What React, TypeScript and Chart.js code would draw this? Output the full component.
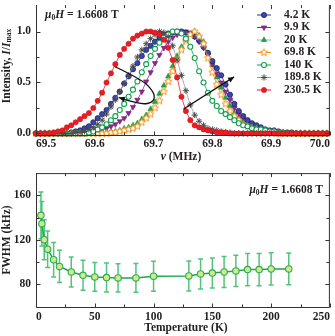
import React, { useEffect, useRef } from 'react';
import { Chart, registerables } from 'chart.js';
import { drawPoint } from 'chart.js/helpers';

Chart.register(...registerables);

const FONT = "'Liberation Serif', 'Times New Roman', serif";
const TXT = '#231f20';
const AXIS = '#333333';

// ---------- top panel data: normalized intensity vs frequency ----------
const freqMHz = [
  69.5000, 69.5075, 69.5150, 69.5225, 69.5300, 69.5375, 69.5450, 69.5525, 69.5600, 69.5675,
  69.5750, 69.5825, 69.5900, 69.5975, 69.6050, 69.6125, 69.6200, 69.6275, 69.6350, 69.6425,
  69.6500, 69.6575, 69.6650, 69.6725, 69.6800, 69.6875, 69.6950, 69.7025, 69.7100, 69.7175,
  69.7250, 69.7325, 69.7400, 69.7475, 69.7550, 69.7625, 69.7700, 69.7775, 69.7850, 69.7925,
  69.8000, 69.8075, 69.8150, 69.8225, 69.8300, 69.8375, 69.8450, 69.8525, 69.8600, 69.8675,
  69.8750, 69.8825, 69.8900, 69.8975, 69.9050, 69.9125, 69.9200, 69.9275, 69.9350, 69.9425,
  69.9500, 69.9575, 69.9650, 69.9725, 69.9800, 69.9875, 69.9950,
];
const int4_2K = [
  0, 0, 0, 0, 0, 0, 0, 0, 0.01, 0.02,
  0.03, 0.05, 0.07, 0.11, 0.15, 0.19, 0.23, 0.29, 0.35, 0.41,
  0.49, 0.56, 0.63, 0.69, 0.76, 0.82, 0.86, 0.90, 0.94, 0.97,
  0.98, 0.99, 1.00, 1.00, 0.99, 0.98, 0.95, 0.91, 0.85, 0.79,
  0.71, 0.64, 0.57, 0.48, 0.38, 0.29, 0.22, 0.17, 0.13, 0.10,
  0.08, 0.06, 0.04, 0.03, 0.03, 0.02, 0.01, 0.01, 0.01, 0,
  0, 0, 0, 0, 0, 0, 0,
];
const int9_9K = [
  0, 0, 0, 0, 0, 0, 0, 0, 0, 0,
  0, 0, 0.01, 0.02, 0.02, 0.04, 0.05, 0.07, 0.09, 0.12,
  0.15, 0.20, 0.26, 0.33, 0.41, 0.51, 0.60, 0.69, 0.77, 0.84,
  0.90, 0.94, 0.97, 0.99, 1.00, 0.98, 0.95, 0.90, 0.84, 0.77,
  0.68, 0.59, 0.50, 0.41, 0.33, 0.25, 0.19, 0.14, 0.10, 0.08,
  0.05, 0.04, 0.03, 0.02, 0.01, 0.01, 0, 0, 0, 0,
  0, 0, 0, 0, 0, 0, 0,
];
const int20K = [
  0, 0, 0, 0, 0, 0, 0, 0, 0, 0,
  0, 0, 0, 0, 0, 0.01, 0.01, 0.02, 0.02, 0.03,
  0.05, 0.06, 0.08, 0.10, 0.14, 0.18, 0.24, 0.31, 0.39, 0.47,
  0.56, 0.66, 0.76, 0.85, 0.92, 0.97, 1.00, 0.96, 0.90, 0.79,
  0.67, 0.55, 0.45, 0.35, 0.27, 0.20, 0.15, 0.11, 0.08, 0.06,
  0.04, 0.03, 0.02, 0.01, 0.01, 0, 0, 0, 0, 0,
  0, 0, 0, 0, 0, 0, 0,
];
const int69_8K = [
  0, 0, 0, 0, 0, 0, 0, 0, 0, 0,
  0, 0, 0, 0, 0, 0, 0, 0.01, 0.01, 0.02,
  0.03, 0.04, 0.05, 0.07, 0.11, 0.15, 0.19, 0.25, 0.32, 0.41,
  0.51, 0.61, 0.72, 0.82, 0.91, 0.97, 1.00, 0.95, 0.88, 0.74,
  0.60, 0.48, 0.38, 0.29, 0.22, 0.17, 0.13, 0.09, 0.07, 0.05,
  0.04, 0.03, 0.02, 0.01, 0.01, 0, 0, 0, 0, 0,
  0, 0, 0, 0, 0, 0, 0,
];
const int140K = [
  0, 0, 0, 0, 0, 0, 0, 0, 0, 0,
  0, 0, 0.01, 0.02, 0.04, 0.06, 0.09, 0.13, 0.17, 0.23,
  0.29, 0.36, 0.43, 0.51, 0.60, 0.68, 0.76, 0.83, 0.89, 0.94,
  0.97, 1.00, 1.00, 0.98, 0.93, 0.85, 0.74, 0.61, 0.50, 0.40,
  0.32, 0.27, 0.22, 0.19, 0.16, 0.13, 0.10, 0.08, 0.07, 0.05,
  0.04, 0.04, 0.03, 0.02, 0.02, 0.01, 0.01, 0, 0, 0,
  0, 0, 0, 0, 0, 0, 0,
];
const int189_8K = [
  0, 0, 0, 0, 0, 0, 0, 0, 0, 0.01,
  0.01, 0.02, 0.04, 0.06, 0.09, 0.13, 0.19, 0.26, 0.33, 0.41,
  0.49, 0.57, 0.66, 0.75, 0.82, 0.88, 0.93, 0.97, 1.00, 0.99,
  0.95, 0.86, 0.72, 0.57, 0.42, 0.28, 0.18, 0.12, 0.08, 0.05,
  0.04, 0.03, 0.02, 0.01, 0.01, 0, 0, 0, 0, 0,
  0, 0, 0, 0, 0, 0, 0, 0, 0, 0,
  0, 0, 0, 0, 0, 0, 0,
];
const int230_5K = [
  0, 0, 0, 0, 0.01, 0.02, 0.03, 0.06, 0.08, 0.11,
  0.14, 0.17, 0.20, 0.25, 0.32, 0.40, 0.50, 0.59, 0.68, 0.77,
  0.83, 0.88, 0.93, 0.96, 0.98, 1.00, 1.00, 0.99, 0.97, 0.92,
  0.84, 0.72, 0.55, 0.36, 0.22, 0.13, 0.08, 0.06, 0.04, 0.03,
  0.02, 0.01, 0.01, 0.01, 0, 0, 0, 0, 0, 0,
  0, 0, 0, 0, 0, 0, 0, 0, 0, 0,
  0, 0, 0, 0, 0, 0, 0,
];
const seriesLabels = ['4.2 K', '9.9 K', '20 K', '69.8 K', '140 K', '189.8 K', '230.5 K'];

// ---------- bottom panel data: FWHM vs temperature ----------
const tempK = [4.2, 5, 7, 9.9, 15, 20, 30, 40, 50, 60, 69.8, 85, 100, 130, 140, 150, 160, 170, 180, 189.8, 200, 215];
const fwhmKHz = [142, 134.5, 120, 111.5, 102, 96, 91, 88, 86.6, 86, 85.7, 85.7, 87.2, 87.5, 89.3, 90, 91, 92, 93.2, 93.2, 93.8, 93.8];
const fwhmErr = [21, 20, 18, 16.5, 15.5, 14.5, 13.5, 13.5, 13, 13, 12.8, 13, 13.5, 13.5, 13.5, 13.5, 14, 14, 14.5, 14.5, 14.5, 14.3];

// ---------- ticks ----------
const xTicksTop = [69.5, 69.6, 69.7, 69.8, 69.9, 70.0];
const xMinorTop = [69.55, 69.65, 69.75, 69.85, 69.95];
const yTicksTop = [0, 0.5, 1.0];
const yMinorTop = [0.25, 0.75];
const xTicksBot = [0, 50, 100, 150, 200, 250];
const xMinorBot = [25, 75, 125, 175, 225];
const yTicksBot = [80, 120, 160];
const yMinorBot = [100, 140];

// arrows (data coordinates of the top panel)
const curvedArrow = [
  [69.6346, 0.654], [69.6824, 0.522], [69.6993, 0.411], [69.7022, 0.349],
  [69.6965, 0.302], [69.6824, 0.286], [69.66, 0.317], [69.641, 0.353],
];
const straightArrow = [[69.751, 0.24], [69.837, 0.555]];

type Piece = { t: string; f: string; dy?: number };

function drawRich(ctx: CanvasRenderingContext2D, pieces: Piece[], x: number, y: number, align: 'left' | 'center' | 'right') {
  let total = 0;
  for (const p of pieces) { ctx.font = p.f; total += ctx.measureText(p.t).width; }
  let cx = align === 'center' ? x - total / 2 : align === 'right' ? x - total : x;
  ctx.textBaseline = 'middle';
  ctx.textAlign = 'left';
  for (const p of pieces) {
    ctx.font = p.f;
    ctx.fillText(p.t, cx, y + (p.dy || 0));
    cx += ctx.measureText(p.t).width;
  }
}

const fB = (s: number) => `bold ${s}px ${FONT}`;
const fBI = (s: number) => `italic bold ${s}px ${FONT}`;

const fieldPieces: Piece[] = [
  { t: 'μ', f: fBI(11.5) },
  { t: '0', f: fB(7.5), dy: 3 },
  { t: 'H', f: fBI(11.5) },
  { t: ' = 1.6608 T', f: fB(11.5) },
];

function drawFrame(chart: any, xMaj: number[], xMin: number[], yMaj: number[], yMin: number[], topLine: boolean) {
  const { ctx, chartArea: a } = chart;
  const sx = chart.scales.x, sy = chart.scales.y;
  ctx.save();
  ctx.strokeStyle = AXIS;
  ctx.lineWidth = 1;
  ctx.beginPath();
  const L = a.left + 0.5, R = a.right - 0.5, B = a.bottom + 0.5, T = a.top + 0.5;
  ctx.moveTo(L, a.top); ctx.lineTo(L, B); ctx.lineTo(R, B); ctx.lineTo(R, a.top);
  if (topLine) { ctx.moveTo(L, T); ctx.lineTo(R, T); }
  const vx = (v: number, len: number) => {
    const p = Math.round(sx.getPixelForValue(v)) + 0.5;
    ctx.moveTo(p, B); ctx.lineTo(p, B - len);
    ctx.moveTo(p, a.top); ctx.lineTo(p, a.top + len);
  };
  const vy = (v: number, len: number) => {
    const p = Math.round(sy.getPixelForValue(v)) + 0.5;
    ctx.moveTo(L, p); ctx.lineTo(L + len, p);
    ctx.moveTo(R, p); ctx.lineTo(R - len, p);
  };
  xMaj.forEach((v) => vx(v, 4));
  xMin.forEach((v) => vx(v, 3));
  yMaj.forEach((v) => vy(v, 4));
  yMin.forEach((v) => vy(v, 3));
  ctx.stroke();
  ctx.restore();
}

function arrowHead(ctx: CanvasRenderingContext2D, fx: number, fy: number, tx: number, ty: number, len: number, half: number) {
  const ang = Math.atan2(ty - fy, tx - fx);
  ctx.beginPath();
  ctx.moveTo(tx, ty);
  ctx.lineTo(tx - len * Math.cos(ang) + half * Math.sin(ang), ty - len * Math.sin(ang) - half * Math.cos(ang));
  ctx.lineTo(tx - len * Math.cos(ang) - half * Math.sin(ang), ty - len * Math.sin(ang) + half * Math.cos(ang));
  ctx.closePath();
  ctx.fill();
}

function makeStar(color: string, size: number) {
  const c = document.createElement('canvas');
  c.width = size; c.height = size;
  const g = c.getContext('2d')!;
  const cx = size / 2, cy = size / 2, R = size / 2 - 0.7, r = R * 0.45;
  g.beginPath();
  for (let i = 0; i < 10; i++) {
    const ang = -Math.PI / 2 + (i * Math.PI) / 5;
    const rr = i % 2 ? r : R;
    g.lineTo(cx + rr * Math.cos(ang), cy + rr * Math.sin(ang));
  }
  g.closePath();
  g.fillStyle = '#ffffff';
  g.fill();
  g.strokeStyle = color;
  g.lineWidth = 1;
  g.stroke();
  return c;
}

export default function App() {
  const topRef = useRef<HTMLCanvasElement>(null);
  const botRef = useRef<HTMLCanvasElement>(null);

  useEffect(() => {
    const star = makeStar('#f7941d', 9);
    const seriesValues = [int4_2K, int9_9K, int20K, int69_8K, int140K, int189_8K, int230_5K];
    const styles: any[] = [
      { line: '#2e3192', fill: '#3b47a6', border: '#1d2168', ps: 'circle', r: 2.6, rot: 0, bw: 0.8, order: 4 },
      { line: '#92278f', fill: '#92278f', border: '#6e1b6b', ps: 'triangle', r: 3.1, rot: 180, bw: 0.6, order: 5 },
      { line: '#78cf98', fill: '#1aa84a', border: '#12893a', ps: 'triangle', r: 3.1, rot: 0, bw: 0.6, order: 6 },
      { line: '#f7941d', fill: '#ffffff', border: '#f7941d', ps: star, r: 4, rot: 0, bw: 0, order: 3 },
      { line: '#0fa14a', fill: '#ffffff', border: '#0fa14a', ps: 'circle', r: 2.5, rot: 0, bw: 1.1, order: 2 },
      { line: '#999999', fill: '#555555', border: '#4a4a4a', ps: 'star', r: 3.1, rot: 0, bw: 1, order: 1 },
      { line: '#ec1c24', fill: '#ec1c24', border: '#c1161c', ps: 'circle', r: 2.6, rot: 0, bw: 0.6, order: 0 },
    ];

    const topDatasets = seriesValues.map((vals, k) => ({
      label: seriesLabels[k],
      data: freqMHz.map((f, i) => ({ x: f, y: vals[i] })),
      showLine: true,
      borderColor: styles[k].line,
      borderWidth: 0.8,
      pointStyle: styles[k].ps,
      pointRotation: styles[k].rot,
      pointRadius: styles[k].r,
      pointBackgroundColor: styles[k].fill,
      pointBorderColor: styles[k].border,
      pointBorderWidth: styles[k].bw,
      tension: 0,
      order: styles[k].order,
      clip: false as any,
    }));

    const topPlugin = {
      id: 'topDecor',
      afterDraw(chart: any) {
        const { ctx } = chart;
        const sx = chart.scales.x, sy = chart.scales.y;
        drawFrame(chart, xTicksTop, xMinorTop, yTicksTop, yMinorTop, false);
        ctx.save();
        ctx.fillStyle = TXT;
        drawRich(ctx, fieldPieces, 45, 15, 'left');
        // legend
        const y0 = 15, step = 12.5;
        seriesLabels.forEach((lab, k) => {
          const y = y0 + k * step;
          const st = styles[k];
          ctx.strokeStyle = st.line;
          ctx.lineWidth = 1;
          ctx.beginPath(); ctx.moveTo(257, y); ctx.lineTo(271, y); ctx.stroke();
          ctx.fillStyle = st.fill;
          ctx.strokeStyle = st.border;
          ctx.lineWidth = st.bw;
          drawPoint(ctx, { pointStyle: st.ps, rotation: st.rot, radius: st.r, borderWidth: st.bw } as any, 264, y);
          ctx.fillStyle = TXT;
          ctx.font = fB(11.5);
          ctx.textAlign = 'left';
          ctx.textBaseline = 'middle';
          ctx.fillText(lab, 284, y);
        });
        // arrows
        ctx.strokeStyle = '#111';
        ctx.fillStyle = '#111';
        ctx.lineWidth = 1.3;
        const pts = curvedArrow.map(([a, b]) => [sx.getPixelForValue(a), sy.getPixelForValue(b)]);
        ctx.beginPath();
        ctx.moveTo(pts[0][0], pts[0][1]);
        for (let i = 1; i < pts.length - 1; i++) {
          const mx = (pts[i][0] + pts[i + 1][0]) / 2, my = (pts[i][1] + pts[i + 1][1]) / 2;
          ctx.quadraticCurveTo(pts[i][0], pts[i][1], mx, my);
        }
        const n = pts.length;
        ctx.lineTo(pts[n - 1][0], pts[n - 1][1]);
        ctx.stroke();
        arrowHead(ctx, pts[n - 2][0], pts[n - 2][1], pts[n - 1][0], pts[n - 1][1], 6, 2.8);
        const s0 = [sx.getPixelForValue(straightArrow[0][0]), sy.getPixelForValue(straightArrow[0][1])];
        const s1 = [sx.getPixelForValue(straightArrow[1][0]), sy.getPixelForValue(straightArrow[1][1])];
        ctx.beginPath(); ctx.moveTo(s0[0], s0[1]); ctx.lineTo(s1[0], s1[1]); ctx.stroke();
        arrowHead(ctx, s0[0], s0[1], s1[0], s1[1], 6, 2.8);
        // axis titles
        ctx.fillStyle = TXT;
        drawRich(ctx, [{ t: 'ν', f: fBI(11.5) }, { t: ' (MHz)', f: fB(11.5) }], 181, 157, 'center');
        ctx.translate(7, 66);
        ctx.rotate(-Math.PI / 2);
        drawRich(ctx, [
          { t: 'Intensity, ', f: fB(11.5) },
          { t: 'I', f: fBI(11.5) },
          { t: '/', f: fB(11.5) },
          { t: 'I', f: fBI(11.5) },
          { t: 'max', f: fB(7.5), dy: 2.5 },
        ], 0, 0, 'center');
        ctx.restore();
      },
    };

    const tickFont = { family: FONT, size: 11.5, weight: 'bold' as const };

    const top = new Chart(topRef.current!, {
      type: 'scatter',
      data: { datasets: topDatasets as any },
      options: {
        responsive: false,
        animation: false,
        devicePixelRatio: 1,
        events: [],
        layout: { padding: { left: 0, right: 2, top: 0, bottom: 0 } },
        plugins: { legend: { display: false }, tooltip: { enabled: false } },
        scales: {
          x: {
            type: 'linear', min: 69.5, max: 70.0,
            grid: { display: false, drawTicks: false }, border: { display: false },
            afterBuildTicks: (s: any) => { s.ticks = xTicksTop.map((v) => ({ value: v })); },
            afterFit: (s: any) => { s.height = 33; s.paddingLeft = 0; s.paddingRight = 0; },
            ticks: { font: tickFont, color: TXT, padding: 2, align: 'inner', maxRotation: 0, autoSkip: false, callback: (v: any) => Number(v).toFixed(1) },
          },
          y: {
            type: 'linear', min: -0.015, max: 1.259,
            grid: { display: false, drawTicks: false }, border: { display: false },
            afterBuildTicks: (s: any) => { s.ticks = yTicksTop.map((v) => ({ value: v })); },
            afterFit: (s: any) => { s.width = 36; s.paddingTop = 0; s.paddingBottom = 0; },
            ticks: { font: tickFont, color: TXT, padding: 5, autoSkip: false, callback: (v: any) => Number(v).toFixed(1) },
          },
        },
      } as any,
      plugins: [topPlugin],
    });

    const botPlugin = {
      id: 'botDecor',
      beforeDatasetsDraw(chart: any) {
        const { ctx } = chart;
        const sx = chart.scales.x, sy = chart.scales.y;
        ctx.save();
        ctx.strokeStyle = 'rgba(50,185,100,0.85)';
        ctx.lineWidth = 1.5;
        ctx.beginPath();
        tempK.forEach((t, i) => {
          const px = sx.getPixelForValue(t);
          const pHi = sy.getPixelForValue(fwhmKHz[i] + fwhmErr[i]);
          const pLo = sy.getPixelForValue(fwhmKHz[i] - fwhmErr[i]);
          ctx.moveTo(px, pHi); ctx.lineTo(px, pLo);
          ctx.moveTo(px - 2.5, pHi); ctx.lineTo(px + 2.5, pHi);
          ctx.moveTo(px - 2.5, pLo); ctx.lineTo(px + 2.5, pLo);
        });
        ctx.stroke();
        ctx.restore();
      },
      afterDraw(chart: any) {
        const { ctx } = chart;
        drawFrame(chart, xTicksBot, xMinorBot, yTicksBot, yMinorBot, true);
        ctx.save();
        ctx.fillStyle = TXT;
        drawRich(ctx, fieldPieces, 323, 22, 'right');
        drawRich(ctx, [{ t: 'Temperature (K)', f: fB(11.5) }], 186, 160, 'center');
        ctx.translate(7, 72);
        ctx.rotate(-Math.PI / 2);
        drawRich(ctx, [{ t: 'FWHM (kHz)', f: fB(11.5) }], 0, 0, 'center');
        ctx.restore();
      },
    };

    const bot = new Chart(botRef.current!, {
      type: 'scatter',
      data: {
        datasets: [{
          label: 'FWHM',
          data: tempK.map((t, i) => ({ x: t, y: fwhmKHz[i] })),
          showLine: true,
          borderColor: '#1ea64c',
          borderWidth: 1.5,
          pointRadius: 3.2,
          pointBackgroundColor: '#d3e78f',
          pointBorderColor: '#27b052',
          pointBorderWidth: 1.1,
          tension: 0,
          clip: false as any,
        }] as any,
      },
      options: {
        responsive: false,
        animation: false,
        devicePixelRatio: 1,
        events: [],
        layout: { padding: { left: 0, right: 2, top: 5, bottom: 0 } },
        plugins: { legend: { display: false }, tooltip: { enabled: false } },
        scales: {
          x: {
            type: 'linear', min: 0, max: 250,
            grid: { display: false, drawTicks: false }, border: { display: false },
            afterBuildTicks: (s: any) => { s.ticks = xTicksBot.map((v) => ({ value: v })); },
            afterFit: (s: any) => { s.height = 29; s.paddingLeft = 0; s.paddingRight = 0; },
            ticks: { font: tickFont, color: TXT, padding: 3, align: 'inner', maxRotation: 0, autoSkip: false, callback: (v: any) => String(v) },
          },
          y: {
            type: 'linear', min: 59.5, max: 180,
            grid: { display: false, drawTicks: false }, border: { display: false },
            afterBuildTicks: (s: any) => { s.ticks = yTicksBot.map((v) => ({ value: v })); },
            afterFit: (s: any) => { s.width = 36; s.paddingTop = 0; s.paddingBottom = 0; },
            ticks: { font: tickFont, color: TXT, padding: 5, autoSkip: false, callback: (v: any) => String(v) },
          },
        },
      } as any,
      plugins: [botPlugin],
    });

    return () => { top.destroy(); bot.destroy(); };
  }, []);

  return (
    <div style={{ position: 'fixed', left: 0, top: 0, width: 335, height: 336, background: '#ffffff' }}>
      <canvas ref={topRef} width={335} height={168} style={{ position: 'absolute', left: 0, top: 0, width: 335, height: 168 }} />
      <canvas ref={botRef} width={335} height={168} style={{ position: 'absolute', left: 0, top: 168, width: 335, height: 168 }} />
    </div>
  );
}
